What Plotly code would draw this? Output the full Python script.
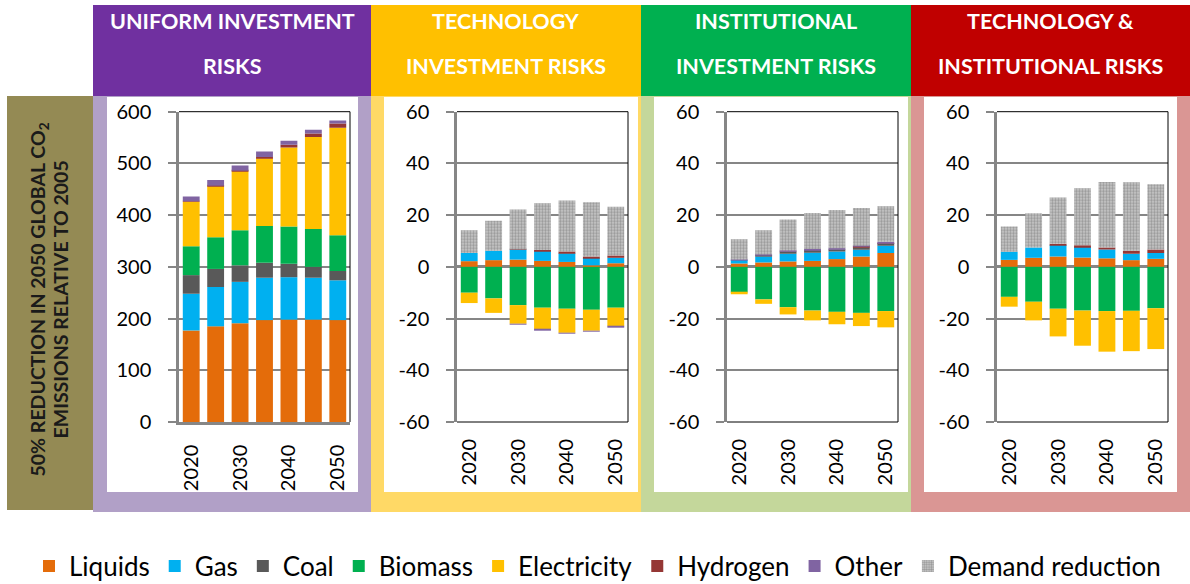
import plotly.graph_objects as go

W, H = 1190, 584

years = ['2020', '2025', '2030', '2035', '2040', '2045', '2050']
label_years = ['2020', '2030', '2040', '2050']
y1_ticks = [0, 100, 200, 300, 400, 500, 600]
y2_ticks = [-60, -40, -20, 0, 20, 40, 60]
y2_labels = ['-60', '-40', '-20', '0', '20', '40', '60']

series_names = ['Liquids', 'Gas', 'Coal', 'Biomass', 'Electricity', 'Hydrogen', 'Other', 'Demand reduction']

# Panel 1: Uniform investment risks
u_liquids = [177, 185, 191, 197, 198, 198, 197]
u_gas = [71, 76, 80, 82, 82, 81, 77]
u_coal = [36, 35, 32, 29, 26, 21, 18]
u_biomass = [56, 61, 68, 71, 72, 73, 69]
u_electricity = [86, 99, 114, 131, 153, 178, 208]
u_hydrogen = [1, 1, 1, 2.5, 5, 7, 8]
u_other = [9, 11, 10, 10.5, 8, 7, 6]
u_demand = [0, 0, 0, 0, 0, 0, 0]

# Panel 2: Technology investment risks
t_liquids = [2.2, 2.6, 2.8, 2.3, 1.9, 0.6, 1.4]
t_gas = [3.2, 3.6, 3.9, 3.9, 3.4, 2.9, 2.1]
t_coal = [0, 0, 0, 0, 0, 0, 0]
t_biomass = [-10.0, -12.2, -14.8, -15.8, -16.2, -16.6, -15.8]
t_electricity = [-4.0, -5.6, -7.2, -8.5, -9.3, -8.1, -7.2]
t_hydrogen = [0, 0, 0.1, 0.3, 0.6, 0.5, 0.9]
t_other = [0, 0, -0.2, -0.2, -0.2, -0.2, -0.2]
t_demand = [8.8, 11.6, 15.4, 18.1, 19.8, 21.0, 18.8]

# Panel 3: Institutional investment risks
i_liquids = [1.3, 1.7, 2.1, 2.3, 3.0, 4.0, 5.4]
i_gas = [1.4, 2.3, 3.0, 3.2, 2.9, 2.6, 2.8]
i_coal = [0, 0.5, 0.9, 1.1, 0.9, 1.0, 0.9]
i_biomass = [-9.9, -12.6, -15.6, -16.9, -17.4, -17.8, -17.1]
i_electricity = [-0.7, -1.7, -2.8, -3.8, -4.8, -5.1, -6.3]
i_hydrogen = [0, 0, 0, 0, 0, 0.2, 0.2]
i_other = [0.1, 0.3, 0.3, 0.3, 0.4, 0.4, 0.4]
i_demand = [7.9, 9.4, 12.0, 13.9, 14.8, 14.6, 13.7]

# Panel 4: Technology & institutional risks
b_liquids = [2.7, 3.5, 4.0, 3.6, 3.3, 2.6, 3.1]
b_gas = [3.1, 4.0, 4.5, 4.1, 3.4, 2.5, 2.3]
b_coal = [0, 0, 0, 0, 0, 0, 0]
b_biomass = [-11.6, -13.5, -16.2, -16.9, -17.1, -17.0, -16.0]
b_electricity = [-3.8, -7.2, -10.7, -13.6, -15.7, -15.6, -15.8]
b_hydrogen = [0, 0, 0.4, 0.7, 0.8, 1.1, 1.3]
b_other = [0, 0, 0, 0, 0, 0, 0]
b_demand = [9.8, 13.2, 17.9, 22.0, 25.3, 26.5, 25.2]

panels = [
    [u_liquids, u_gas, u_coal, u_biomass, u_electricity, u_hydrogen, u_other, u_demand],
    [t_liquids, t_gas, t_coal, t_biomass, t_electricity, t_hydrogen, t_other, t_demand],
    [i_liquids, i_gas, i_coal, i_biomass, i_electricity, i_hydrogen, i_other, i_demand],
    [b_liquids, b_gas, b_coal, b_biomass, b_electricity, b_hydrogen, b_other, b_demand],
]

header_line1 = ['UNIFORM INVESTMENT', 'TECHNOLOGY', 'INSTITUTIONAL', 'TECHNOLOGY &']
header_line2 = ['RISKS', 'INVESTMENT RISKS', 'INVESTMENT RISKS', 'INSTITUTIONAL RISKS']
side_line1 = '50% REDUCTION IN 2050 GLOBAL CO<sub>2</sub>'
side_line2 = 'EMISSIONS RELATIVE TO 2005'

colors = ['#E46C0A', '#00B0F0', '#595959', '#00B050', '#FFC000', '#953735', '#8064A2', '#C0C0C0']
header_colors = ['#7030A0', '#FFC000', '#00B050', '#C00000']
frame_colors = ['#B1A0C7', '#FFD966', '#C4D79B', '#DA9694']

FONT = 'Lato'
GRAY = '#868686'


def px(x):
    return x / W


def py(y):
    return 1 - y / H


# layout geometry (pixels)
header_x = [(93, 371), (371, 641), (641, 911), (911, 1190)]
inner_x = [(107, 358), (384, 638), (654, 908), (924, 1177)]
plot_x = [(179, 350), (457, 628), (727, 898), (997, 1168)]
plot_top, plot_bot = 111.7, 422.0

fig = go.Figure()

for p, vals in enumerate(panels):
    xa = 'x' if p == 0 else f'x{p + 1}'
    ya = 'y' if p == 0 else f'y{p + 1}'
    for s, name in enumerate(series_names):
        marker = dict(color=colors[s], line=dict(width=0))
        if name == 'Demand reduction':
            marker = dict(color='#C0C0C0', line=dict(width=0),
                          pattern=dict(shape='.', fgcolor='#666666', bgcolor='#CACACA',
                                       size=3, solidity=0.5))
        fig.add_trace(go.Bar(
            x=years, y=vals[s], name=name, marker=marker,
            xaxis=xa, yaxis=ya, legendgroup=name,
            showlegend=(p == 1),
        ))

shapes = []
annotations = []

# left side label box
shapes.append(dict(type='rect', xref='paper', yref='paper', layer='below',
                   x0=px(7), x1=px(93), y0=py(510), y1=py(96),
                   fillcolor='#948A54', line=dict(width=0)))
for txt, xx in ((side_line1, 38.5), (side_line2, 59.5)):
    annotations.append(dict(xref='paper', yref='paper', x=px(xx), y=py(300),
                            text=txt, textangle=-90, showarrow=False,
                            font=dict(family=FONT, size=19.5, color='#1A1A1A', weight=700),
                            align='center', xanchor='center', yanchor='middle'))

for p in range(4):
    hx0, hx1 = header_x[p]
    shapes.append(dict(type='rect', xref='paper', yref='paper', layer='below',
                       x0=px(hx0), x1=px(hx1), y0=py(96), y1=py(5),
                       fillcolor=header_colors[p], line=dict(width=0)))
    shapes.append(dict(type='rect', xref='paper', yref='paper', layer='below',
                       x0=px(hx0), x1=px(hx1), y0=py(512), y1=py(96),
                       fillcolor=frame_colors[p], line=dict(width=0)))
    ix0, ix1 = inner_x[p]
    shapes.append(dict(type='rect', xref='paper', yref='paper', layer='below',
                       x0=px(ix0), x1=px(ix1), y0=py(492), y1=py(97),
                       fillcolor='white', line=dict(width=0)))
    cx = (hx0 + hx1) / 2
    for txt, yy in ((header_line1[p], 21), (header_line2[p], 66)):
        annotations.append(dict(xref='paper', yref='paper', x=px(cx), y=py(yy),
                                text=txt, showarrow=False,
                                font=dict(family=FONT, size=21.5, color='white', weight=700),
                                xanchor='center', yanchor='middle'))
    # plot-area border (top, right, bottom)
    xd = ('x' if p == 0 else f'x{p + 1}') + ' domain'
    yd = ('y' if p == 0 else f'y{p + 1}') + ' domain'
    shapes.append(dict(type='line', xref=xd, yref=yd, x0=0, x1=1, y0=1, y1=1,
                       line=dict(color='black', width=1), layer='above'))
    shapes.append(dict(type='line', xref=xd, yref=yd, x0=1, x1=1, y0=0, y1=1,
                       line=dict(color='black', width=1), layer='above'))
    if p > 0:
        shapes.append(dict(type='line', xref=xd, yref=yd, x0=0, x1=1, y0=0, y1=0,
                           line=dict(color='black', width=1), layer='below'))

layout = dict(
    width=W, height=H,
    margin=dict(l=0, r=0, t=0, b=0, pad=0, autoexpand=False),
    paper_bgcolor='white', plot_bgcolor='white',
    barmode='relative', bargap=0.31,
    font=dict(family=FONT, color='black'),
    shapes=shapes, annotations=annotations,
    legend=dict(orientation='h', x=px(29), xanchor='left', y=py(566), yanchor='middle',
                font=dict(family=FONT, size=26, color='black'),
                bgcolor='rgba(0,0,0,0)', itemwidth=30, traceorder='normal'),
)

for p in range(4):
    xk = 'xaxis' if p == 0 else f'xaxis{p + 1}'
    yk = 'yaxis' if p == 0 else f'yaxis{p + 1}'
    ya = 'y' if p == 0 else f'y{p + 1}'
    xa = 'x' if p == 0 else f'x{p + 1}'
    x0, x1 = plot_x[p]
    layout[xk] = dict(
        domain=[px(x0), px(x1)], anchor=ya, type='category',
        categoryorder='array', categoryarray=years,
        tickmode='array', tickvals=label_years, ticktext=label_years,
        tickangle=-90, ticks='', showgrid=False, zeroline=False,
        showline=(p == 0), linecolor=GRAY, linewidth=2.5,
        tickfont=dict(family=FONT, size=20, color='black'),
        ticklabelstandoff=12, automargin=False,
        fixedrange=True,
    )
    common_y = dict(
        domain=[py(plot_bot), py(plot_top)], anchor=xa,
        showgrid=True, gridcolor=GRAY, gridwidth=1.5,
        showline=True, linecolor=GRAY, linewidth=2.5,
        ticks='outside', ticklen=8, tickcolor=GRAY, tickwidth=1.5,
        tickfont=dict(family=FONT, size=20, color='black'),
        ticklabelstandoff=13, automargin=False, fixedrange=True,
    )
    if p == 0:
        layout[yk] = dict(common_y, range=[0, 600], tickmode='array',
                          tickvals=y1_ticks, ticktext=[str(v) for v in y1_ticks],
                          zeroline=False)
    else:
        layout[yk] = dict(common_y, range=[-60, 60], tickmode='array',
                          tickvals=y2_ticks, ticktext=y2_labels,
                          zeroline=True, zerolinecolor=GRAY, zerolinewidth=2.5)
    # tick-mark axis at category boundaries (at the zero line)
    tk = f'xaxis{p + 5}'
    zero_y = plot_bot if p == 0 else (plot_top + plot_bot) / 2
    layout[tk] = dict(
        overlaying=xa, anchor='free', position=py(zero_y),
        range=[-0.5, 6.5], tickmode='array',
        tickvals=[-0.5, 0.5, 1.5, 2.5, 3.5, 4.5, 5.5, 6.5],
        ticks='outside', ticklen=7, tickcolor=GRAY, tickwidth=1.5,
        showticklabels=False, showgrid=False, zeroline=False, showline=False,
        automargin=False, fixedrange=True,
    )

fig.update_layout(**layout)
fig.write_html("out.html", config={'displayModeBar': False},
               post_script="document.body.style.margin='0';document.body.style.overflow='hidden';")
